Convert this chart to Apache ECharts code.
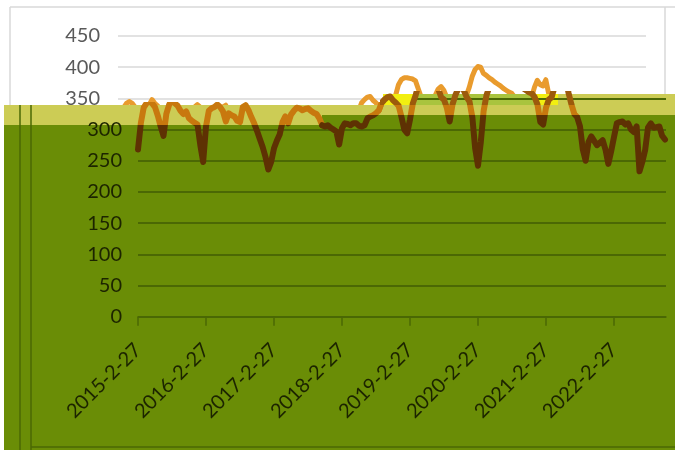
<!DOCTYPE html>
<html>
<head>
<meta charset="utf-8">
<script src="https://cdn.jsdelivr.net/npm/echarts@6/dist/echarts.min.js"></script>
<style>
html,body{margin:0;padding:0;background:#ffffff;}
#c{width:675px;height:450px;}
</style>
</head>
<body>
<div id="c"></div>
<script>
// ---------- data ----------
const tickLabels = ['2015-2-27','2016-2-27','2017-2-27','2018-2-27','2019-2-27','2020-2-27','2021-2-27','2022-2-27'];
const tickYears = [0,1,2,3,4,5,6,7];
const pointsPerYear = 24; // half-month samples starting 2015-2-27
const values = [
268,310,335,342,345,342,336,322,305,290,325,340,348,342,338,330,325,329,318,314,
311,308,275,248,305,330,334,336,340,336,329,313,326,323,321,314,312,336,339,331,
320,310,298,285,272,256,236,248,270,282,292,312,321,310,324,330,335,334,331,333,
334,330,327,325,318,307,305,307,303,300,297,276,302,310,309,307,310,310,306,305,
307,318,321,323,326,331,343,348,352,353,347,343,338,320,300,294,316,342,355,372,
380,383,383,382,381,378,365,352,348,335,313,340,355,365,369,363,352,345,320,270,
242,280,330,355,368,385,396,401,400,390,387,383,380,376,373,370,366,363,360,358,
352,340,312,308,335,348,352,368,379,372,370,380,358,340,325,320,305,268,250,280,
289,282,275,279,283,268,245,265,288,310,312,313,308,310,300,296,305,233,248,267,
303,310,303,304,305,290,284
];
const yMaxWhite = 450, yMaxGreen = 300, yStep = 50;
const xMax = 7.765;

const seriesData = values.map((v, i) => [i / pointsPerYear, v]);

// ---------- layout helpers ----------
const PLOT_BOTTOM = 316.7, PLOT_TOP = 36;
const PXU = (PLOT_BOTTOM - PLOT_TOP) / yMaxWhite;
const valAt = py => (PLOT_BOTTOM - py) / PXU;
const G_LEFT = 138, G_RIGHT = 666;
const yearAt = px => (px - G_LEFT) / (G_RIGHT - G_LEFT) * xMax;
const BOTTOM = 450 - PLOT_BOTTOM;

const ORANGE = '#e99b2d', DARK_ORANGE = '#c8780e', BROWN = '#5e3103', STRIP_LINE = '#9c5a0c';
const GREEN = '#6a8d06', DKGREEN = '#4b6804', BAND = '#cccc55', STRIP = '#a9c43e', BRIGHT = '#f2ef10';
const FONT = 'Lato';

const chart = echarts.init(document.getElementById('c'), null, {renderer: 'canvas'});

const lineBase = {type: 'line', showSymbol: false, silent: true, smooth: false,
  lineStyle: {width: 6, cap: 'round', join: 'round'}};

const option = {
  animation: false,
  backgroundColor: '#ffffff',
  grid: [
    {left: 118, right: 675 - 646, top: PLOT_TOP, bottom: BOTTOM},                  // 0 white axes
    {left: G_LEFT, right: 675 - G_RIGHT, top: PLOT_BOTTOM - yMaxGreen * PXU, bottom: BOTTOM}, // 1 green axes
    {left: 413, right: 675 - G_RIGHT, top: PLOT_BOTTOM - 350 * PXU, bottom: BOTTOM},  // 2 green 350 line
    {left: G_LEFT, right: 675 - 383, top: 105, bottom: BOTTOM},                   // 3 green series left
    {left: 383, right: 675 - G_RIGHT, top: 94, bottom: BOTTOM}                    // 4 green series right
  ],
  xAxis: [
    {gridIndex: 0, type: 'value', min: 0, max: xMax, show: false},
    {gridIndex: 1, type: 'value', min: 0, max: xMax, z: 4,
      axisLine: {lineStyle: {color: DKGREEN, width: 1.5}},
      axisTick: {show: true, customValues: tickYears, length: 9, lineStyle: {color: DKGREEN, width: 1.5}},
      axisLabel: {customValues: tickYears, formatter: v => tickLabels[Math.round(v)], rotate: 45,
        fontSize: 20, fontFamily: FONT, color: '#1c2400', margin: 30, padding: [10, 0, 0, 0]},
      splitLine: {show: false}},
    {gridIndex: 2, type: 'value', min: yearAt(413), max: xMax, show: false},
    {gridIndex: 3, type: 'value', min: 0, max: yearAt(383), show: false},
    {gridIndex: 4, type: 'value', min: yearAt(383), max: xMax, show: false}
  ],
  yAxis: [
    {gridIndex: 0, type: 'value', min: 0, max: yMaxWhite, interval: yStep, z: 0,
      axisLine: {show: false}, axisTick: {show: false},
      axisLabel: {fontSize: 20, fontFamily: FONT, color: '#595959', margin: 18},
      splitLine: {lineStyle: {color: '#d9d9d9', width: 1.5}}},
    {gridIndex: 1, type: 'value', min: 0, max: yMaxGreen, interval: yStep, z: 4,
      axisLine: {show: false}, axisTick: {show: false},
      axisLabel: {fontSize: 20, fontFamily: FONT, color: '#1c2400', margin: 16},
      splitLine: {lineStyle: {color: DKGREEN, width: 2}}},
    {gridIndex: 2, type: 'value', min: 0, max: 350, interval: yStep, z: 4,
      axisLine: {show: false}, axisTick: {show: false}, axisLabel: {show: false},
      splitLine: {lineStyle: {color: DKGREEN, width: 2}}},
    {gridIndex: 3, type: 'value', min: 0, max: valAt(105), show: false},
    {gridIndex: 4, type: 'value', min: 0, max: valAt(94), show: false}
  ],
  visualMap: [
    {type: 'piecewise', show: false, dimension: 1, seriesIndex: 1,
      pieces: [{gte: -1000, lt: valAt(125), color: BROWN}, {gte: valAt(125), lte: 1000, color: DARK_ORANGE}]},
    {type: 'piecewise', show: false, dimension: 1, seriesIndex: 2,
      pieces: [{gte: -1000, lt: valAt(115), color: BROWN}, {gte: valAt(115), lte: 1000, color: DARK_ORANGE}]},
    {type: 'piecewise', show: false, dimension: 1, seriesIndex: 3,
      pieces: [{gte: -1000, lt: valAt(115), color: BROWN}, {gte: valAt(115), lt: valAt(105), color: DARK_ORANGE},
               {gte: valAt(105), lte: 1000, color: STRIP_LINE}]}
  ],
  series: [
    Object.assign({}, lineBase, {xAxisIndex: 0, yAxisIndex: 0, z: 1, data: seriesData,
      lineStyle: {width: 5, color: ORANGE, cap: 'round', join: 'round'}}),
    Object.assign({}, lineBase, {xAxisIndex: 3, yAxisIndex: 3, z: 5, data: seriesData.slice(0, 66)}),
    Object.assign({}, lineBase, {xAxisIndex: 3, yAxisIndex: 3, z: 5, data: seriesData.slice(65)}),
    Object.assign({}, lineBase, {xAxisIndex: 4, yAxisIndex: 4, z: 5, data: seriesData})
  ],
  graphic: {elements: [
    {type: 'line', z: 3, shape: {x1: 10, y1: 7, x2: 675, y2: 7}, style: {stroke: '#d9d9d9', lineWidth: 1.5}},
    {type: 'line', z: 3, shape: {x1: 10, y1: 7, x2: 10, y2: 105}, style: {stroke: '#d9d9d9', lineWidth: 1.5}},
    {type: 'line', z: 3, shape: {x1: 665, y1: 7, x2: 665, y2: 94}, style: {stroke: '#d9d9d9', lineWidth: 1.5}},
    {type: 'rect', z: 3, shape: {x: 4, y: 115, width: 671, height: 335}, style: {fill: GREEN}},
    {type: 'rect', z: 3, z2: 1, shape: {x: 4, y: 105, width: 318, height: 20}, style: {fill: BAND}},
    {type: 'rect', z: 3, z2: 1, shape: {x: 322, y: 105, width: 236, height: 10}, style: {fill: BAND}},
    {type: 'rect', z: 3, z2: 1, shape: {x: 558, y: 94, width: 117, height: 21}, style: {fill: BAND}},
    {type: 'rect', z: 3, z2: 1, shape: {x: 383, y: 94, width: 175, height: 11}, style: {fill: STRIP}},
    {type: 'rect', z: 3, z2: 2, shape: {x: 383, y: 94, width: 30, height: 11}, style: {fill: BRIGHT}},
    {type: 'rect', z: 3, z2: 2, shape: {x: 535, y: 94, width: 23, height: 11}, style: {fill: BRIGHT}},
    {type: 'line', z: 3, z2: 5, shape: {x1: 20, y1: 105, x2: 20, y2: 450}, style: {stroke: DKGREEN, lineWidth: 1.5}},
    {type: 'line', z: 3, z2: 5, shape: {x1: 31, y1: 105, x2: 31, y2: 450}, style: {stroke: DKGREEN, lineWidth: 1.5}},
    {type: 'line', z: 3, z2: 5, shape: {x1: 31, y1: 447, x2: 675, y2: 447}, style: {stroke: DKGREEN, lineWidth: 1.5}}
  ]}
};
chart.setOption(option);
</script>
</body>
</html>
